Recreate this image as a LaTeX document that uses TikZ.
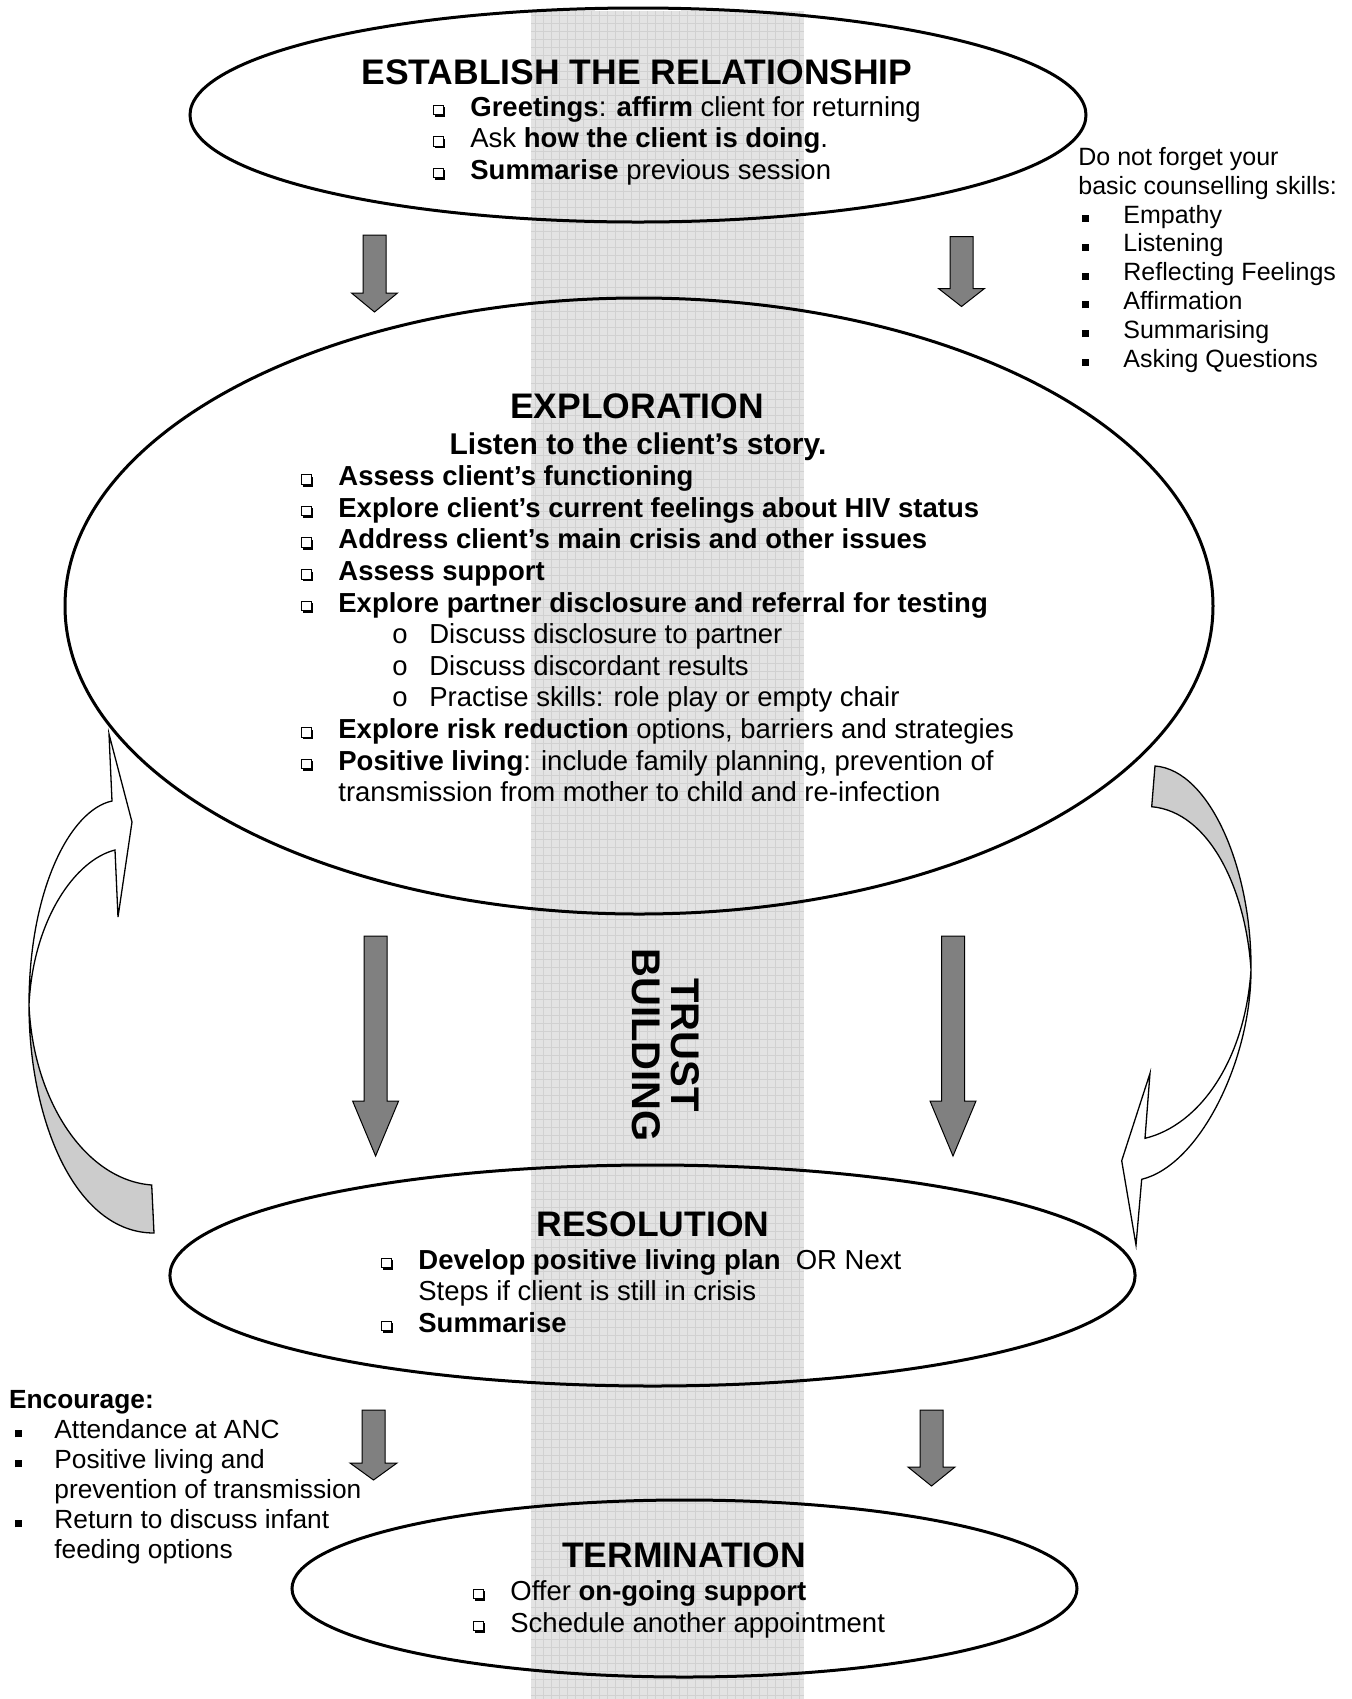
\documentclass[tikz,border=0pt]{standalone}
\usepackage{fontspec}
\setmainfont{Liberation Sans}
\usetikzlibrary{shapes.geometric}

% hollow square bullet with a drop shadow
\newcommand\qb{\tikz[baseline=0pt,x=1pt,y=1pt,line width=0.45pt]{%
  \fill (0.9,-0.4) rectangle (6,0.75);
  \fill (4.9,-0.4) rectangle (6,4.5);
  \draw (0.2,0.75) rectangle (4.9,5.5);}}
% small filled square bullet
\newcommand\sqb{\rule[0.6pt]{3.5pt}{3.5pt}}
% grey block arrow pointing down: centre x, top, head base, tip, shaft half width, head half width
\newcommand\BlkArrow[6]{%
  \filldraw[blkarrow] (#1-#5,#2) -- (#1+#5,#2) -- (#1+#5,#3) -- (#1+#6,#3)
    -- (#1,#4) -- (#1-#6,#3) -- (#1-#5,#3) -- cycle;}

\begin{document}
\begin{tikzpicture}[x=0.5pt,y=-0.5pt,
  stage/.style={draw=black,line width=1.5pt,ellipse,inner sep=0pt},
  blkarrow/.style={fill=gray,draw=black,line width=0.5pt,line join=miter},
  curvearrow/.style={draw=black,line width=0.65pt,line join=miter},
  gridline/.style={draw=gray!36,line width=0.3pt},
  heading/.style={font=\fontsize{17.75}{20}\selectfont\bfseries,inner sep=0pt,anchor=base},
  % list nodes are placed by the baseline of their last line
  itemlist/.style={font=\fontsize{13.75}{15.8}\selectfont,inner sep=0pt,anchor=base west,align=left},
  sidelist/.style={font=\fontsize{12.5}{14.4}\selectfont,inner sep=0pt,anchor=base west,align=left},
  notelist/.style={font=\fontsize{13.15}{15}\selectfont,inner sep=0pt,anchor=base west,align=left},
]
\useasboundingbox (0,0) rectangle (1352,1699);
\fill[white] (0,0) rectangle (1352,1699);

% trust-building band with its fine grid
\fill[gray!22] (531,11) rectangle (804,1699);
\foreach \gx in {535,543,...,803} \draw[gridline] (\gx,11) -- (\gx,1699);
\foreach \gy in {15,23,...,1699} \draw[gridline] (531,\gy) -- (804,\gy);

\node[rotate=-90,font=\fontsize{20}{19.5}\selectfont\bfseries,align=center,inner sep=0pt]
  (trust) at (666,1045) {TRUST\\BUILDING};

% the four stages
\node[stage,minimum width=448pt,minimum height=107pt] (establish) at (638,115) {};
\node[stage,minimum width=574pt,minimum height=308pt] (explore) at (639,606) {};
\node[stage,minimum width=482.6pt,minimum height=110.5pt] (resolve) at (652.5,1275.5) {};
\node[stage,minimum width=392.5pt,minimum height=88.5pt] (terminate) at (684.5,1588.5) {};

% texts inside the stages
\node[heading] (estT) at (637,84) {ESTABLISH THE RELATIONSHIP};
\node[itemlist] (estL) at (433,179.2) {%
  \makebox[18.5pt][l]{\qb}\textbf{Greetings}: \textbf{affirm} client for returning\\
  \makebox[18.5pt][l]{\qb}Ask \textbf{how the client is doing}.\\
  \makebox[18.5pt][l]{\qb}\textbf{Summarise} previous session};

\node[heading] (expT) at (637,418.5) {EXPLORATION};
\node[font=\fontsize{15}{17}\selectfont\bfseries,inner sep=0pt,anchor=base]
  (expS) at (638,454) {Listen to the client’s story.};
\node[itemlist] (expL) at (301,801.7) {%
  \makebox[18.5pt][l]{\qb}\textbf{Assess client’s functioning}\\
  \makebox[18.5pt][l]{\qb}\textbf{Explore client’s current feelings about HIV status}\\
  \makebox[18.5pt][l]{\qb}\textbf{Address client’s main crisis and other issues}\\
  \makebox[18.5pt][l]{\qb}\textbf{Assess support}\\
  \makebox[18.5pt][l]{\qb}\textbf{Explore partner disclosure and referral for testing}\\
  \hspace*{45.5pt}\makebox[18.5pt][l]{o}Discuss disclosure to partner\\
  \hspace*{45.5pt}\makebox[18.5pt][l]{o}Discuss discordant results\\
  \hspace*{45.5pt}\makebox[18.5pt][l]{o}Practise skills: role play or empty chair\\
  \makebox[18.5pt][l]{\qb}\textbf{Explore risk reduction} options, barriers and strategies\\
  \makebox[18.5pt][l]{\qb}\textbf{Positive living}: include family planning, prevention of\\
  \hspace*{18.5pt}transmission from mother to child and re-infection};

\node[heading] (resT) at (653,1236.5) {RESOLUTION};
\node[itemlist] (resL) at (381,1332.2) {%
  \makebox[18.5pt][l]{\qb}\textbf{Develop positive living plan}\ \ OR Next\\
  \hspace*{18.5pt}Steps if client is still in crisis\\
  \makebox[18.5pt][l]{\qb}\textbf{Summarise}};

\node[heading] (terT) at (684,1567) {TERMINATION};
\node[itemlist] (terL) at (473,1632) {%
  \makebox[18.5pt][l]{\qb}Offer \textbf{on-going support}\\
  \makebox[18.5pt][l]{\qb}Schedule another appointment};

% side notes
\node[sidelist] (skills) at (1078,367.1) {%
  Do not forget your\\
  basic counselling skills:\\
  \hspace*{2pt}\makebox[20.5pt][l]{\sqb}Empathy\\
  \hspace*{2pt}\makebox[20.5pt][l]{\sqb}Listening\\
  \hspace*{2pt}\makebox[20.5pt][l]{\sqb}Reflecting Feelings\\
  \hspace*{2pt}\makebox[20.5pt][l]{\sqb}Affirmation\\
  \hspace*{2pt}\makebox[20.5pt][l]{\sqb}Summarising\\
  \hspace*{2pt}\makebox[20.5pt][l]{\sqb}Asking Questions};

\node[notelist] (encourage) at (8.7,1558.5) {%
  \textbf{Encourage:}\\
  \hspace*{3.15pt}\makebox[19.5pt][l]{\sqb}Attendance at ANC\\
  \hspace*{3.15pt}\makebox[19.5pt][l]{\sqb}Positive living and\\
  \hspace*{22.65pt}prevention of transmission\\
  \hspace*{3.15pt}\makebox[19.5pt][l]{\sqb}Return to discuss infant\\
  \hspace*{22.65pt}feeding options};

% block arrows between the stages
\BlkArrow{374.5}{235}{293}{312}{11.5}{23}
\BlkArrow{961.5}{236.5}{288.5}{306.5}{11.5}{23}
\BlkArrow{375.6}{936}{1101}{1156}{11.5}{23}
\BlkArrow{953}{936}{1101}{1156}{11.5}{23}
\BlkArrow{373.5}{1410}{1463}{1480}{11.5}{23.5}
\BlkArrow{931.5}{1410}{1467}{1486}{11.5}{23.5}

% curved return arrow on the left: shaded underside, then the front face with its head
\filldraw[curvearrow,fill=gray!40] (29,1005) .. controls (29,1120) and (75,1233) .. (154,1233)
  -- (151.7,1185) .. controls (85,1180) and (33,1100) .. cycle;
\draw[curvearrow] (29,1005) .. controls (29,890) and (70,810) .. (112,801)
  -- (109,734) -- (132,822) -- (118,917) -- (115,850)
  .. controls (75,860) and (33,920) .. cycle;

% curved arrow on the right
\filldraw[curvearrow,fill=gray!40] (1155,766) .. controls (1210,770) and (1252,870) .. (1251,970)
  .. controls (1246,890) and (1210,812) .. (1151.7,806.7) -- cycle;
\draw[curvearrow] (1251,970) .. controls (1251,1060) and (1200,1165) .. (1141.7,1179.3)
  -- (1136,1245) -- (1121.7,1160.7) -- (1150,1073.3) -- (1145,1138.3)
  .. controls (1200,1125) and (1245,1060) .. cycle;
\end{tikzpicture}
\end{document}
